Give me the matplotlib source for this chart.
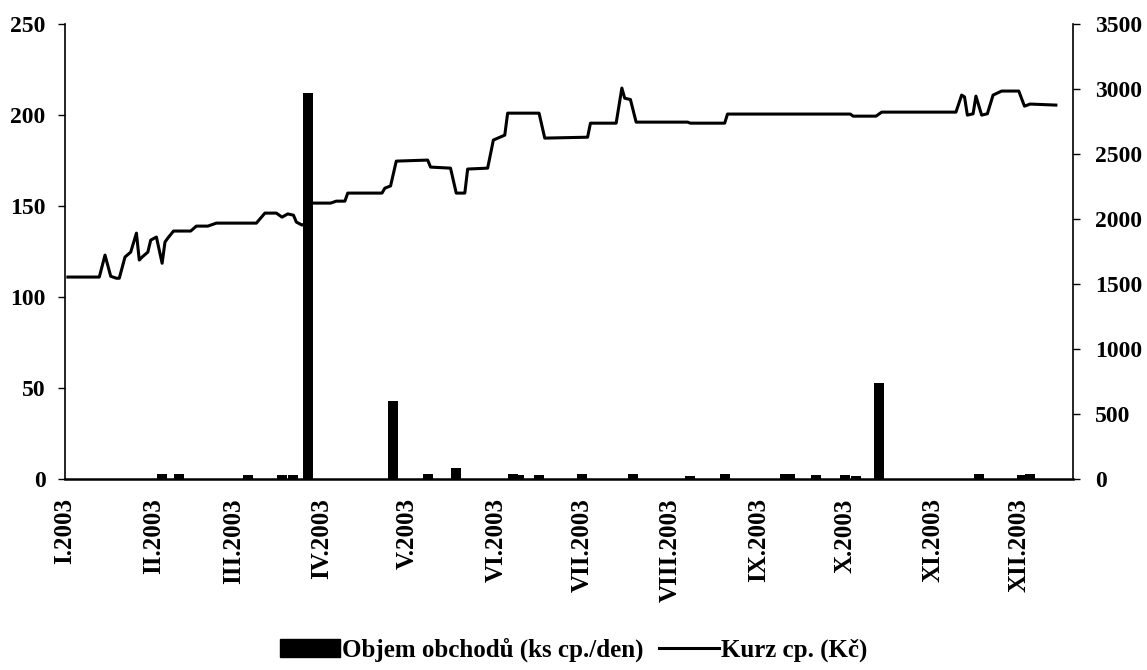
import numpy as np
import pandas as pd
import matplotlib
matplotlib.use('Agg')
import matplotlib.pyplot as plt
from matplotlib.patches import Patch
from matplotlib.lines import Line2D

# Volume of trades (left axis, pcs/day)
vol_dates = ['2003-02-04', '2003-02-10', '2003-03-06', '2003-03-18', '2003-03-22',
             '2003-03-27', '2003-04-26', '2003-05-08', '2003-05-18', '2003-06-07',
             '2003-06-09', '2003-06-16', '2003-07-01', '2003-07-19', '2003-08-08',
             '2003-08-20', '2003-09-10', '2003-09-12', '2003-09-21', '2003-10-01',
             '2003-10-05', '2003-10-13', '2003-11-17', '2003-12-02', '2003-12-05']
vol_values = [3, 3, 2, 2, 2,
              212, 43, 3, 6, 3,
              2, 2, 3, 3, 1.5,
              3, 3, 3, 2, 2,
              1.5, 53, 3, 2, 3]

# Share price (right axis, CZK)
price_dates = ['2003-01-02', '2003-01-13', '2003-01-15', '2003-01-17', '2003-01-19',
               '2003-01-20', '2003-01-22', '2003-01-24', '2003-01-26', '2003-01-27',
               '2003-01-28', '2003-01-30', '2003-01-31', '2003-02-02', '2003-02-04',
               '2003-02-05', '2003-02-06', '2003-02-08', '2003-02-14', '2003-02-16',
               '2003-02-20', '2003-02-23', '2003-03-09', '2003-03-12', '2003-03-16',
               '2003-03-18', '2003-03-20', '2003-03-22', '2003-03-23', '2003-03-25',
               '2003-03-26', '2003-03-28', '2003-04-04', '2003-04-06', '2003-04-09',
               '2003-04-10', '2003-04-22', '2003-04-23', '2003-04-25', '2003-04-27',
               '2003-05-08', '2003-05-09', '2003-05-16', '2003-05-18', '2003-05-21',
               '2003-05-22', '2003-05-29', '2003-05-31', '2003-06-04', '2003-06-05',
               '2003-06-16', '2003-06-18', '2003-07-03', '2003-07-04', '2003-07-13',
               '2003-07-15', '2003-07-16', '2003-07-18', '2003-07-20', '2003-08-07',
               '2003-08-08', '2003-08-20', '2003-08-21', '2003-10-03', '2003-10-04',
               '2003-10-12', '2003-10-14', '2003-11-09', '2003-11-11', '2003-11-12',
               '2003-11-13', '2003-11-15', '2003-11-16', '2003-11-18', '2003-11-20',
               '2003-11-22', '2003-11-25', '2003-12-01', '2003-12-03', '2003-12-05',
               '2003-12-14']
price_values = [1554, 1554, 1723, 1560, 1545,
                1545, 1708, 1746, 1892, 1685,
                1708, 1746, 1838, 1862, 1660,
                1823, 1854, 1908, 1908, 1946,
                1946, 1969, 1969, 2046, 2046,
                2015, 2040, 2030, 1977, 1954,
                1965, 2123, 2123, 2138, 2138,
                2200, 2200, 2238, 2255, 2446,
                2454, 2400, 2392, 2200, 2200,
                2385, 2392, 2608, 2646, 2815,
                2815, 2623, 2630, 2738, 2738,
                3008, 2930, 2920, 2746, 2746,
                2738, 2738, 2808, 2808, 2792,
                2792, 2823, 2823, 2954, 2940,
                2800, 2810, 2946, 2800, 2810,
                2954, 2985, 2985, 2869, 2885,
                2877]

month_ticks = pd.date_range('2003-01-01', '2003-12-01', freq='MS')
month_labels = ['I.2003', 'II.2003', 'III.2003', 'IV.2003', 'V.2003', 'VI.2003',
                'VII.2003', 'VIII.2003', 'IX.2003', 'X.2003', 'XI.2003', 'XII.2003']

plt.rcParams['font.family'] = ['Liberation Serif', 'DejaVu Serif']
plt.rcParams['font.weight'] = 'bold'

fig = plt.figure(figsize=(11.47, 6.70), dpi=100)
ax = fig.add_axes([0.0567, 0.285, 0.8788, 0.679])
ax2 = ax.twinx()

ax.bar(pd.to_datetime(vol_dates), vol_values, width=3.5, color='black', zorder=3)
ax2.plot(pd.to_datetime(price_dates), price_values, color='black', lw=2.2)

ax.set_xlim(pd.Timestamp('2003-01-01'), pd.Timestamp('2003-12-20'))
ax.set_ylim(0, 250)
ax2.set_ylim(0, 3500)
ax.set_yticks(np.arange(0, 251, 50))
ax2.set_yticks(np.arange(0, 3501, 500))

ax.set_xticks(month_ticks)
ax.set_xticklabels(month_labels, rotation=90, fontsize=18, fontweight='bold')
ax.tick_params(axis='x', length=0, pad=14)
ax.tick_params(axis='y', length=5, width=1, labelsize=17, pad=9)
ax2.tick_params(axis='y', length=5, width=1, labelsize=17, pad=11)

for a in (ax, ax2):
    a.spines['top'].set_visible(False)
    for s in a.spines.values():
        s.set_linewidth(1.2)
ax.spines['right'].set_visible(False)
ax2.spines['left'].set_visible(False)
ax2.spines['bottom'].set_visible(False)
ax.spines['bottom'].set_linewidth(1.8)

handles = [Patch(facecolor='black', edgecolor='black'),
           Line2D([0], [0], color='black', lw=2.2)]
fig.legend(handles, ['Objem obchodů (ks cp./den)', 'Kurz cp. (Kč)'],
           loc='center', bbox_to_anchor=(0.5, 0.03), ncol=2, frameon=False,
           prop={'size': 18, 'weight': 'bold'}, handlelength=2.4, handleheight=0.7,
           handletextpad=0.1, columnspacing=0.6, borderpad=0)

fig.savefig('out.png', dpi=100)
